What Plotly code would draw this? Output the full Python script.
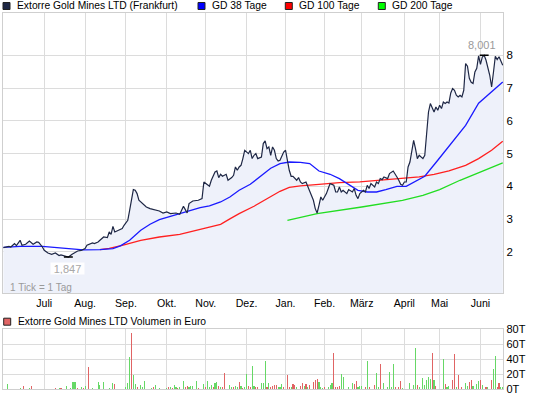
import plotly.graph_objects as go

# ---------------- data (x = trading-day index, 0 = 1 June 2010) ----------------
month_ticks = [22, 44, 66, 88, 109, 131, 152, 173, 193, 216, 235, 257]
month_labels = ["Juli", "Aug.", "Sep.", "Okt.", "Nov.", "Dez.", "Jan.", "Feb.", "März", "April", "Mai", "Juni"]

price_day = [0, 3, 4, 6, 7, 9, 10, 12, 14, 16, 18, 19, 21, 22, 24, 26, 28, 30, 31, 33, 35, 37, 39, 40, 42, 44, 45, 48, 49, 51,
             52, 54, 56, 57, 58, 59, 60, 62, 64, 65, 67, 68, 69, 70, 71, 72, 73, 74, 75, 77, 79, 81, 83, 84, 86, 88, 90, 91, 93, 95,
             97, 98, 99, 100, 102, 105, 107, 108, 109, 111, 112, 114, 115, 116, 117, 118, 120, 121, 123, 124, 125, 126, 127, 128, 129, 130, 132, 133, 134, 135,
             136, 137, 139, 140, 141, 142, 143, 144, 145, 146, 147, 148, 149, 150, 151, 152, 153, 154, 155, 156, 158, 159, 160, 161, 163, 165, 167, 168, 169, 170,
             171, 172, 174, 175, 176, 178, 179, 180, 181, 182, 183, 185, 186, 188, 189, 190, 191, 192, 194, 195, 196, 197, 198, 200, 201, 202, 203, 204, 205, 207,
             208, 210, 211, 212, 213, 214, 215, 216, 217, 218, 219, 220, 221, 222, 223, 224, 225, 226, 227, 228, 229, 230, 231, 232, 233, 234, 235, 236, 237, 238,
             239, 240, 241, 242, 243, 244, 245, 246, 247, 248, 249, 250, 251, 252, 253, 254, 255, 256, 257, 258, 259, 260, 262, 263, 264, 265, 266, 267, 269]
price_eur = [2.134, 2.173, 2.152, 2.256, 2.195, 2.356, 2.204, 2.234, 2.335, 2.234, 2.305, 2.295, 2.152, 2.051, 1.969, 1.929, 1.969, 1.890, 1.908, 1.870,
             1.847, 1.929, 2.000, 2.030, 2.051, 2.103, 2.204, 2.274, 2.256, 2.305,
             2.356, 2.457, 2.439, 2.610, 2.539, 2.783, 2.610, 2.661, 2.713, 2.814, 2.967, 3.272, 3.628, 3.903, 3.882, 3.781, 3.577, 3.525, 3.455, 3.372,
             3.323, 3.293, 3.272, 3.250, 3.189, 3.220, 3.171, 3.171, 3.189, 3.150,
             3.394, 3.293, 3.189, 3.476, 3.555, 3.577, 3.628, 4.135, 4.086, 4.004, 4.187, 4.440, 4.470, 4.269, 4.370, 4.309, 4.370, 4.187, 4.269, 4.339,
             4.593, 4.492, 4.593, 4.644, 4.849, 5.102, 5.001, 5.102, 4.849, 4.949,
             5.001, 4.849, 4.898, 5.306, 5.386, 5.154, 5.203, 4.949, 5.203, 5.102, 4.849, 4.776, 4.797, 4.949, 5.050, 5.102, 4.745, 4.492, 4.309, 4.309,
             4.187, 4.269, 4.135, 4.086, 4.135, 3.882, 3.577, 3.323, 3.189, 3.424,
             3.677, 3.577, 3.781, 3.934, 4.086, 4.034, 3.830, 3.830, 3.982, 3.830, 3.882, 3.781, 3.903, 3.830, 3.934, 3.729, 3.628, 3.781, 3.882, 3.830,
             4.034, 3.934, 4.086, 3.982, 4.135, 4.086, 4.239, 4.208, 4.287, 4.239,
             4.391, 4.470, 4.391, 4.287, 4.187, 4.065, 4.034, 4.135, 4.135, 4.593, 4.745, 5.102, 5.407, 5.154, 4.849, 4.949, 4.898, 4.849, 4.949, 5.611,
             6.270, 6.527, 6.374, 6.270, 6.423, 6.322, 6.475, 6.374, 6.575, 6.527,
             6.575, 6.545, 6.850, 6.984, 6.932, 6.780, 6.728, 6.780, 6.728, 6.932, 7.747, 7.664, 7.298, 7.176, 7.137, 7.491, 7.603, 7.985, 7.725, 7.948,
             8.001, 7.847, 7.390, 7.033, 7.481, 7.970, 7.869, 7.954, 7.695]

gd38_day = [0, 9, 21, 34, 43, 52, 59, 63, 68, 74, 79, 84, 90, 95, 100, 106, 111, 117, 122, 127, 133, 138, 144, 149, 154, 160, 165,
            170, 176, 181, 187, 191, 196, 201, 206, 212, 217, 222, 227, 234, 241, 249, 256, 263, 269]
gd38_val = [2.143, 2.173, 2.173, 2.103, 2.067, 2.073, 2.103, 2.189, 2.356, 2.661, 2.845, 2.988, 3.089, 3.171, 3.272, 3.354, 3.409, 3.525,
            3.677, 3.882, 4.065, 4.278, 4.553, 4.696, 4.745, 4.736, 4.696, 4.470, 4.370, 4.239, 4.034, 3.882, 3.830, 3.830, 3.903, 4.004,
            4.004, 4.156, 4.309, 4.797, 5.306, 5.860, 6.536, 6.880, 7.186]

gd100_day = [52, 57, 64, 74, 84, 95, 106, 117, 122, 127, 135, 142, 149, 154, 160, 170, 181, 192, 203, 214, 224, 232, 240, 249, 256, 263, 269]
gd100_val = [2.073, 2.113, 2.204, 2.356, 2.457, 2.539, 2.692, 2.845, 3.010, 3.171, 3.394, 3.628, 3.851, 3.973, 4.019, 4.065, 4.117,
             4.141, 4.187, 4.239, 4.294, 4.370, 4.477, 4.644, 4.849, 5.102, 5.377]

gd200_day = [153, 169, 193, 215, 226, 235, 246, 257, 269]
gd200_val = [2.967, 3.171, 3.372, 3.577, 3.729, 3.903, 4.187, 4.440, 4.715]

# volume in thousand EUR; vol_up: 1 = green (up day), 0 = red (down day)
vol_day = [2, 9, 11, 14, 15, 28, 30, 31, 34, 36, 37, 38, 39, 40, 42, 43, 44, 46, 48, 51, 52, 54, 57, 59, 60, 66, 67, 68, 69, 70,
           71, 72, 74, 75, 76, 80, 81, 82, 84, 88, 89, 90, 91, 92, 93, 94, 95, 97, 98, 99, 100, 101, 102, 104, 105, 108, 109, 110, 111, 112,
           113, 114, 115, 116, 117, 118, 119, 122, 123, 124, 125, 126, 127, 128, 129, 130, 131, 132, 133, 134, 135, 136, 137, 139, 140, 141, 142, 143, 144, 145,
           146, 147, 148, 149, 150, 151, 153, 154, 155, 156, 157, 158, 160, 161, 162, 163, 164, 165, 167, 168, 169, 170, 171, 172, 173, 175, 176, 177, 178, 179,
           180, 181, 182, 183, 186, 188, 189, 190, 191, 192, 193, 195, 196, 197, 200, 201, 202, 203, 205, 207, 208, 209, 210, 211, 213, 214, 215, 219, 221, 222,
           223, 224, 226, 227, 228, 229, 230, 231, 232, 233, 237, 238, 239, 240, 242, 243, 244, 245, 247, 249, 250, 251, 252, 253, 255, 256, 257, 258, 260, 261,
           263, 264, 265, 266, 267, 268, 269]
vol_teur = [6.7, 1.8, 4.0, 1.3, 4.0, 1.3, 1.3, 1.8, 4.0, 1.8, 9.3, 9.3, 9.3, 1.8, 3.1, 1.3, 4.0, 29.3, 1.3, 9.3, 5.3, 9.3, 1.3, 8.4, 6.7, 2.2, 8.4, 42.7, 74.7, 18.7,
            6.7, 2.2, 5.3, 2.2, 10.7, 1.8, 3.1, 4.9, 1.8, 1.8, 3.1, 2.2, 1.8, 5.3, 2.2, 1.8, 3.1, 10.7, 2.2, 4.0, 2.2, 4.0, 4.0, 10.7, 1.8, 6.7, 3.1, 10.7, 3.1, 5.3,
            2.2, 8.4, 9.8, 4.0, 2.2, 3.1, 21.3, 5.3, 2.2, 2.2, 4.0, 2.2, 9.3, 4.0, 1.8, 2.2, 20.0, 4.0, 2.2, 30.7, 4.0, 2.2, 2.2, 8.4, 8.4, 37.3, 2.2, 8.4, 2.2, 4.0,
            5.3, 5.3, 2.2, 2.2, 6.7, 2.2, 18.7, 2.2, 2.2, 6.7, 5.3, 2.2, 4.0, 7.6, 4.0, 6.7, 2.2, 5.3, 9.8, 12.0, 13.3, 9.8, 2.2, 1.8, 2.2, 3.1, 5.3, 8.4, 48.4, 2.2,
            2.2, 4.0, 20.0, 16.4, 2.2, 7.6, 6.7, 10.7, 2.2, 4.0, 4.0, 2.2, 37.3, 2.2, 5.3, 21.8, 2.2, 33.3, 7.6, 2.2, 23.1, 2.2, 33.3, 2.2, 2.2, 10.7, 1.8, 7.6, 4.9, 55.6,
            4.9, 2.2, 14.2, 4.9, 12.0, 16.4, 12.9, 48.4, 12.0, 4.0, 39.6, 6.7, 2.2, 4.0, 12.0, 46.7, 2.2, 18.7, 2.2, 7.6, 4.0, 9.8, 12.0, 4.0, 6.7, 10.7, 12.0, 5.3, 2.2, 2.2,
            12.0, 26.2, 44.0, 2.2, 7.6, 2.2, 2.2]
vol_up = [1, 1, 0, 1, 0, 0, 1, 0, 1, 1, 1, 1, 1, 0, 1, 0, 1, 0, 1, 1, 1, 1, 1, 1, 0, 1, 1, 1, 0, 1,
          1, 0, 1, 1, 1, 1, 0, 1, 1, 1, 0, 1, 0, 1, 1, 0, 1, 1, 0, 0, 1, 1, 1, 1, 0, 1, 0, 1, 1, 1,
          0, 1, 1, 0, 1, 0, 0, 1, 1, 0, 1, 1, 0, 1, 0, 1, 1, 0, 0, 1, 1, 0, 0, 1, 1, 1, 0, 1, 0, 0,
          0, 0, 1, 1, 1, 0, 0, 0, 1, 0, 0, 1, 0, 0, 1, 0, 1, 0, 0, 0, 0, 1, 1, 1, 0, 1, 1, 1, 0, 0,
          0, 0, 1, 1, 1, 1, 0, 0, 1, 1, 1, 0, 1, 0, 0, 1, 1, 0, 1, 1, 1, 1, 1, 0, 0, 0, 1, 1, 1, 1,
          0, 1, 1, 1, 1, 1, 1, 0, 1, 0, 1, 0, 1, 1, 0, 0, 1, 0, 0, 1, 1, 0, 0, 1, 1, 1, 0, 1, 0, 1,
          0, 1, 1, 0, 0, 1, 1]

# ---------------- styling ----------------
W, H = 545, 398
FONT = "Liberation Sans, Arial, sans-serif"
GRID = "#DCDCDC"
FRAME = "#CFCFCF"
C_PRICE = "#1E2745"
C_FILL = "#EEF1FA"
C_38 = "#1A1AFF"
C_100 = "#FF2020"
C_200 = "#22DD22"
C_UP = "#66D866"
C_DN = "#E06464"
LEG_SIZE = 10.3

def fx(p):
    return p / W

def fy(p):
    return 1 - p / H

fig = go.Figure()

# price area fill
fig.add_trace(go.Scatter(x=price_day, y=price_eur, mode="lines", line=dict(width=0, color=C_PRICE),
                         fill="tozeroy", fillcolor=C_FILL, hoverinfo="skip", xaxis="x", yaxis="y"))
# moving averages
fig.add_trace(go.Scatter(x=gd200_day, y=gd200_val, mode="lines", line=dict(color=C_200, width=1.3), xaxis="x", yaxis="y"))
fig.add_trace(go.Scatter(x=gd100_day, y=gd100_val, mode="lines", line=dict(color=C_100, width=1.3), xaxis="x", yaxis="y"))
fig.add_trace(go.Scatter(x=gd38_day, y=gd38_val, mode="lines", line=dict(color=C_38, width=1.3), xaxis="x", yaxis="y"))
# price line
fig.add_trace(go.Scatter(x=price_day, y=price_eur, mode="lines", line=dict(color=C_PRICE, width=1.2), xaxis="x", yaxis="y"))

# min / max markers
vmax = max(price_eur)
dmax = price_day[price_eur.index(vmax)]
vmin = min(price_eur)
dmin = price_day[price_eur.index(vmin)]
for d, v in ((dmax, vmax), (dmin, vmin)):
    fig.add_trace(go.Scatter(x=[d - 2.4, d + 2.4], y=[v, v], mode="lines",
                             line=dict(color="black", width=1.5), xaxis="x", yaxis="y"))

# volume bars
fig.add_trace(go.Bar(x=vol_day, y=vol_teur, width=0.6,
                     marker=dict(color=[C_UP if u else C_DN for u in vol_up], line=dict(width=0)),
                     xaxis="x2", yaxis="y2"))

xr = [-0.38, 269.3]
xdom = [fx(2.7), fx(503.3)]
common_x = dict(range=xr, domain=xdom, tickmode="array", tickvals=month_ticks, showgrid=True,
                gridcolor=GRID, gridwidth=1, showline=True, linecolor=FRAME, linewidth=1, mirror=True,
                ticks="", zeroline=False, automargin=False, fixedrange=True)

fig.update_layout(
    width=W, height=H, margin=dict(l=0, r=0, t=0, b=0, pad=0),
    paper_bgcolor="white", plot_bgcolor="white", showlegend=False,
    font=dict(family=FONT, size=11, color="black"),
    bargap=0,
    xaxis=dict(common_x, anchor="y", ticktext=month_labels, showticklabels=True,
               tickfont=dict(size=10.6, color="black")),
    yaxis=dict(domain=[fy(293.3), fy(13.3)], range=[0.74, 9.28], side="right",
               tickmode="array", tickvals=[2, 3, 4, 5, 6, 7, 8], ticktext=["2", "3", "4", "5", "6", "7", "8"],
               showgrid=True, gridcolor=GRID, showline=True, linecolor=FRAME, mirror=True, ticks="",
               zeroline=False, automargin=False, fixedrange=True, anchor="x",
               tickfont=dict(size=11.5, color="black")),
    xaxis2=dict(common_x, anchor="y2", showticklabels=False, ticktext=month_labels),
    yaxis2=dict(domain=[fy(389), fy(329.3)], range=[0, 80], side="right",
                tickmode="array", tickvals=[0, 20, 40, 60, 80], ticktext=["0T", "20T", "40T", "60T", "80T"],
                showgrid=True, gridcolor=GRID, showline=True, linecolor=FRAME, mirror=True, ticks="",
                zeroline=False, automargin=False, fixedrange=True, anchor="x2",
                tickfont=dict(size=11, color="black")),
)

annotations = []
shapes = []

# legend rows
legend_items = [
    (3, 15, C_PRICE, "Extorre Gold Mines LTD (Frankfurt)", 6),
    (198, 209.5, "#0000FF", "GD 38 Tage", 6),
    (285.3, 297, "#FF0000", "GD 100 Tage", 6),
    (378.3, 389.5, "#00FF00", "GD 200 Tage", 6),
    (3.7, 15.7, C_DN, "Extorre Gold Mines LTD Volumen in Euro", 321.7),
]
for sx, tx, col, label, cy in legend_items:
    shapes.append(dict(type="rect", xref="paper", yref="paper",
                       x0=fx(sx), x1=fx(sx + 7), y0=fy(cy + 3.5), y1=fy(cy - 3.5),
                       fillcolor=col, line=dict(color="#222222", width=1)))
    annotations.append(dict(xref="paper", yref="paper", x=fx(tx), y=fy(cy), text=label,
                            showarrow=False, xanchor="left", yanchor="middle",
                            font=dict(size=LEG_SIZE, color="black", family=FONT)))

# max / min value labels
annotations.append(dict(xref="x", yref="y", x=dmax, y=vmax, text=f"{vmax:.3f}".replace(".", ","),
                        showarrow=False, xanchor="center", yanchor="bottom", yshift=2, xshift=-2,
                        font=dict(size=11, color="#9A9A9A", family=FONT)))
annotations.append(dict(xref="x", yref="y", x=dmin, y=vmin, text=f"{vmin:.3f}".replace(".", ","),
                        showarrow=False, xanchor="center", yanchor="top", yshift=-5, xshift=-1,
                        bgcolor="rgba(255,255,255,0.9)", width=33, height=11, borderpad=0,
                        font=dict(size=11, color="#A8A8A8", family=FONT)))
annotations.append(dict(xref="paper", yref="paper", x=fx(8.3), y=fy(287), text="1 Tick = 1 Tag",
                        showarrow=False, xanchor="left", yanchor="middle",
                        font=dict(size=10, color="#9A9A9A", family=FONT)))

fig.update_layout(annotations=annotations, shapes=shapes)

fig.write_html("out.html", config={"displayModeBar": False, "staticPlot": True},
               post_script="document.body.style.margin='0';document.body.style.padding='0';")
